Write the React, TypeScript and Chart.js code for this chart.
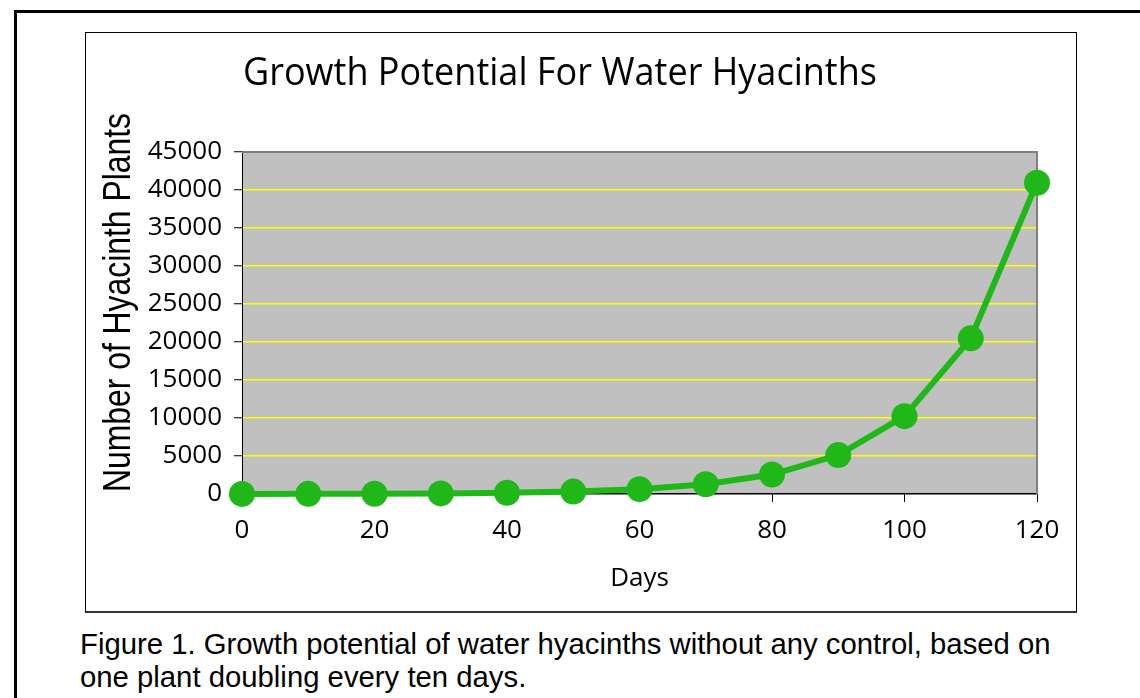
import { useEffect, useRef } from "react";
import { Chart, registerables } from "chart.js";

Chart.register(...registerables);

const days = [0, 10, 20, 30, 40, 50, 60, 70, 80, 90, 100, 110, 120];
const plants = [10, 20, 40, 80, 160, 320, 640, 1280, 2560, 5120, 10240, 20480, 40960];
const yMin = 0;
const yMax = 45000;
const yStep = 5000;
const xMin = 0;
const xMax = 120;
const xStep = 20;
const chartTitle = "Growth Potential For Water Hyacinths";
const yAxisTitle = "Number of Hyacinth Plants";
const xAxisTitle = "Days";
const captionLines = [
  "Figure 1. Growth potential of water hyacinths without any control, based on",
  "one plant doubling every ten days.",
];

const GREEN = "#20b818";
const MYRIAD = '"Open Sans", "Noto Sans", sans-serif';
const ARIAL = '"Liberation Sans", Arial, sans-serif';

const decor = {
  id: "decor",
  beforeDraw(chart: any) {
    const { ctx, chartArea: a } = chart;
    ctx.save();
    ctx.fillStyle = "#c0c0c0";
    ctx.fillRect(a.left, a.top, a.right - a.left, a.bottom - a.top);
    ctx.restore();
  },
  beforeDatasetsDraw(chart: any) {
    const { ctx, chartArea: a } = chart;
    ctx.save();
    ctx.strokeStyle = "#808080";
    ctx.lineWidth = 2;
    ctx.beginPath();
    ctx.moveTo(a.left, a.top);
    ctx.lineTo(a.right, a.top);
    ctx.lineTo(a.right, a.bottom);
    ctx.stroke();
    ctx.restore();
  },
  afterDraw(chart: any) {
    const { ctx } = chart;
    // chart title
    ctx.save();
    ctx.font = `39px ${MYRIAD}`;
    ctx.fillStyle = "#000";
    ctx.textBaseline = "alphabetic";
    ctx.textAlign = "center";
    const tw = ctx.measureText(chartTitle).width;
    ctx.translate(474, 52);
    ctx.scale(634 / tw, 1);
    ctx.fillText(chartTitle, 0, 0);
    ctx.restore();
    // y axis title
    ctx.save();
    ctx.font = `38px ${ARIAL}`;
    ctx.fillStyle = "#000";
    ctx.textBaseline = "alphabetic";
    ctx.textAlign = "center";
    const yw = ctx.measureText(yAxisTitle).width;
    ctx.translate(44, 269.5);
    ctx.rotate(-Math.PI / 2);
    ctx.scale(379 / yw, 1);
    ctx.fillText(yAxisTitle, 0, 0);
    ctx.restore();
  },
};

function ChartView() {
  const ref = useRef<HTMLCanvasElement>(null);
  useEffect(() => {
    if (!ref.current) return;
    const chart = new Chart(ref.current, {
      type: "line",
      data: {
        datasets: [
          {
            data: days.map((d, i) => ({ x: d, y: plants[i] })),
            borderColor: GREEN,
            backgroundColor: GREEN,
            borderWidth: 6,
            pointRadius: 13,
            pointHoverRadius: 13,
            pointBackgroundColor: GREEN,
            pointBorderWidth: 0,
            tension: 0,
            clip: false as any,
          },
        ],
      },
      options: {
        animation: false,
        responsive: false,
        maintainAspectRatio: false,
        devicePixelRatio: 1,
        events: [],
        layout: { padding: { top: 119, right: 39, left: 0, bottom: 0 } },
        plugins: {
          legend: { display: false },
          tooltip: { enabled: false },
          title: { display: false },
        },
        scales: {
          x: {
            type: "linear",
            min: xMin,
            max: xMax,
            ticks: {
              stepSize: xStep,
              color: "#000",
              font: { family: MYRIAD, size: 26 },
              padding: 13,
              maxRotation: 0,
              callback: (v: any) => String(v),
            },
            grid: {
              drawOnChartArea: false,
              drawTicks: true,
              tickLength: 8,
              tickColor: "#000",
              tickWidth: 1,
            },
            border: { color: "#000", width: 1.5 },
            title: {
              display: true,
              text: xAxisTitle,
              color: "#000",
              font: { family: MYRIAD, size: 26 },
              padding: { top: 0, bottom: 17 },
            },
            afterFit: (s: any) => {
              s.height = 117;
            },
          },
          y: {
            min: yMin,
            max: yMax,
            ticks: {
              stepSize: yStep,
              color: "#000",
              font: { family: MYRIAD, size: 26 },
              padding: 12,
              callback: (v: any) => String(v),
            },
            grid: {
              color: (c: any) =>
                c.tick && c.tick.value === yMax
                  ? "#808080"
                  : c.tick && c.tick.value === yMin
                  ? "rgba(0,0,0,0)"
                  : "#ffff00",
              lineWidth: 1.5,
              tickLength: 8,
              tickColor: "#000",
              tickWidth: 1,
            },
            border: { color: "#000", width: 1 },
            afterFit: (s: any) => {
              s.width = 156;
            },
          },
        },
      },
      plugins: [decor],
    } as any);
    return () => chart.destroy();
  }, []);
  return <canvas ref={ref} width={990} height={578} style={{ display: "block", width: 990, height: 578 }} />;
}

export default function App() {
  return (
    <div style={{ position: "absolute", left: 0, top: 0, width: 1140, height: 698, overflow: "hidden", background: "#fff" }}>
      <div
        style={{
          position: "absolute",
          left: 14,
          top: 10,
          width: 1200,
          height: 800,
          border: "3px solid #000",
        }}
      />
      <div
        style={{
          position: "absolute",
          left: 85,
          top: 32,
          width: 992,
          height: 581,
          boxSizing: "border-box",
          border: "1px solid #000",
          borderBottom: "2px solid #333",
          background: "#fff",
        }}
      >
        <ChartView />
      </div>
      <div
        style={{
          position: "absolute",
          left: 80,
          top: 627,
          fontFamily: ARIAL,
          fontSize: 29.3,
          lineHeight: "33px",
          whiteSpace: "nowrap",
          color: "#000",
        }}
      >
        {captionLines.map((l, i) => (
          <div key={i}>{l}</div>
        ))}
      </div>
    </div>
  );
}
